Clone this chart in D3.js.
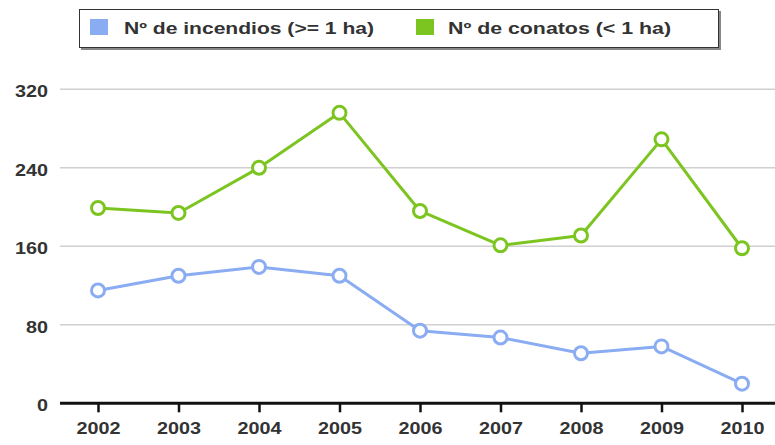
<!DOCTYPE html>
<html><head><meta charset="utf-8">
<script src="https://cdn.jsdelivr.net/npm/d3@7"></script>
<style>body{margin:0;background:#fff}svg{display:block}</style>
</head><body>
<svg id="c" width="775" height="445"></svg>
<script>
const years = ["2002","2003","2004","2005","2006","2007","2008","2009","2010"];
const incendios = [115,130,139,130,74,67,51,58,20];
const conatos = [199,194,240,296,196,161,171,269,158];
const yTicks = [0,80,160,240,320];
const seriesNames = ["Nº de incendios (>= 1 ha)","Nº de conatos (< 1 ha)"];
const colors = ["#8aacf2","#7cc520"];

const FONT = "Liberation Sans, Arial, sans-serif";
const svg = d3.select("#c");
const x = d3.scalePoint().domain(years).range([98,742]);
const y = d3.scaleLinear().domain([0,320]).range([403.3,89.3]);
const left = 60, right = 775;

// grid
svg.append("g").selectAll("line").data(yTicks.filter(d=>d>0)).join("line")
  .attr("x1",left).attr("x2",right).attr("y1",d=>y(d)).attr("y2",d=>y(d))
  .attr("stroke","#d0d0d0").attr("stroke-width",1.5);

// y labels
svg.append("g").selectAll("text").data(yTicks).join("text")
  .attr("x",48).attr("y",d=>y(d)+2).attr("dy","0.35em").attr("text-anchor","end")
  .attr("font-family",FONT).attr("font-weight","bold")
  .attr("font-size",17).attr("fill","#333")
  .attr("textLength",d=>String(d).length*11).attr("lengthAdjust","spacingAndGlyphs")
  .text(d=>d);

// x axis
const xa = svg.append("g").attr("transform",`translate(0,${y(0)})`)
  .call(d3.axisBottom(x).tickSize(9).tickSizeOuter(0).tickPadding(10));
xa.select(".domain").remove();
xa.append("line").attr("x1",left).attr("x2",right).attr("stroke","#111").attr("stroke-width",3);
xa.selectAll(".tick line").attr("stroke","#111").attr("stroke-width",2.5);
xa.selectAll(".tick text").attr("font-family",FONT)
  .attr("font-weight","bold").attr("font-size",17).attr("fill","#333")
  .attr("textLength",44).attr("lengthAdjust","spacingAndGlyphs");

// lines
const line = d3.line().x((d,i)=>x(years[i])).y(d=>y(d));
[incendios, conatos].forEach((s,k)=>{
  svg.append("path").datum(s).attr("d",line).attr("fill","none")
    .attr("stroke",colors[k]).attr("stroke-width",3).attr("stroke-linejoin","round");
  svg.append("g").selectAll("circle").data(s).join("circle")
    .attr("cx",(d,i)=>x(years[i])).attr("cy",d=>y(d)).attr("r",6.5)
    .attr("fill","#fff").attr("stroke",colors[k]).attr("stroke-width",3);
});

// legend
const lg = svg.append("g");
lg.append("rect").attr("x",81).attr("y",11).attr("width",640).attr("height",39).attr("fill","#888");
lg.append("rect").attr("x",79.5).attr("y",9.5).attr("width",639).attr("height",38)
  .attr("fill","#fff").attr("stroke","#333").attr("stroke-width",1);
const lx = [90,416], tx = [124,448], tl = [250,223];
seriesNames.forEach((n,k)=>{
  lg.append("rect").attr("x",lx[k]).attr("y",19).attr("width",18).attr("height",16).attr("fill",colors[k]);
  lg.append("text").attr("x",tx[k]).attr("y",28).attr("dy","0.35em")
    .attr("font-family",FONT).attr("font-weight","bold")
    .attr("font-size",16).attr("fill","#333")
    .attr("textLength",tl[k]).attr("lengthAdjust","spacingAndGlyphs").text(n);
});
</script>
</body></html>
